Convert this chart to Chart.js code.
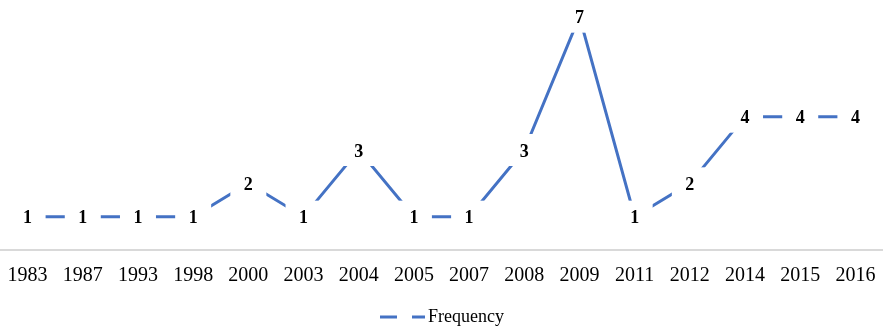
<!DOCTYPE html>
<html>
<head>
<meta charset="utf-8">
<script src="https://cdn.jsdelivr.net/npm/chart.js@4"></script>
<style>
  html, body { margin: 0; padding: 0; background: #fff; }
  #wrap { width: 883px; height: 326px; position: relative; }
</style>
</head>
<body>
<div id="wrap"><canvas id="myChart"></canvas></div>
<script>
// Years on the x axis
const years = ['1983', '1987', '1993', '1998', '2000', '2003', '2004', '2005',
               '2007', '2008', '2009', '2011', '2012', '2014', '2015', '2016'];
// Frequency per year
const frequency = [1, 1, 1, 1, 2, 1, 3, 1, 1, 3, 7, 1, 2, 4, 4, 4];
const seriesName = 'Frequency';

const lineColor = '#4472C4';
const serif = "'Liberation Serif', 'Times New Roman', serif";

// Data labels drawn on a white box, so the line breaks around each value
const labelPlugin = {
    id: 'pointLabels',
    afterDatasetsDraw(chart) {
        const ctx = chart.ctx;
        const meta = chart.getDatasetMeta(0);
        ctx.save();
        ctx.font = 'bold 18px ' + serif;
        ctx.textAlign = 'center';
        ctx.textBaseline = 'middle';
        meta.data.forEach((pt, i) => {
            ctx.fillStyle = '#fff';
            ctx.fillRect(pt.x - 18, pt.y - 16, 36, 32);
            ctx.fillStyle = '#000';
            ctx.fillText(String(frequency[i]), pt.x, pt.y + 2);
        });
        ctx.restore();
    }
};

// Legend at the bottom: line sample with a gap, then the series name
const legendPlugin = {
    id: 'bottomLegend',
    afterDraw(chart) {
        const ctx = chart.ctx;
        const y = 317;
        ctx.save();
        ctx.strokeStyle = lineColor;
        ctx.lineWidth = 3;
        ctx.beginPath();
        ctx.moveTo(380, y); ctx.lineTo(397, y);
        ctx.moveTo(412, y); ctx.lineTo(425, y);
        ctx.stroke();
        ctx.fillStyle = '#000';
        ctx.font = '18px ' + serif;
        ctx.textAlign = 'left';
        ctx.textBaseline = 'middle';
        ctx.fillText(seriesName, 428, y);
        ctx.restore();
    }
};

const ctx = document.getElementById('myChart').getContext('2d');
const myChart = new Chart(ctx, {
    type: 'line',
    data: {
        labels: years,
        datasets: [{
            label: seriesName,
            data: frequency,
            borderColor: lineColor,
            borderWidth: 3,
            pointRadius: 0,
            tension: 0,
            fill: false
        }]
    },
    options: {
        responsive: true,
        maintainAspectRatio: false,
        animation: false,
        layout: { padding: { top: 0, left: 0, right: 0, bottom: 24 } },
        plugins: {
            legend: { display: false },
            tooltip: { enabled: false }
        },
        scales: {
            x: {
                offset: true,
                grid: { display: false, drawTicks: false },
                border: { display: true, color: '#d9d9d9', width: 2 },
                ticks: {
                    color: '#000',
                    padding: 14,
                    maxRotation: 0,
                    autoSkip: false,
                    font: { family: serif, size: 20 }
                },
                afterFit(scale) {
                    // let the axis run edge to edge
                    scale.paddingLeft = 0;
                    scale.paddingRight = 0;
                }
            },
            y: {
                display: false,
                min: 0,
                max: 7.5
            }
        }
    },
    plugins: [labelPlugin, legendPlugin]
});
</script>
</body>
</html>
